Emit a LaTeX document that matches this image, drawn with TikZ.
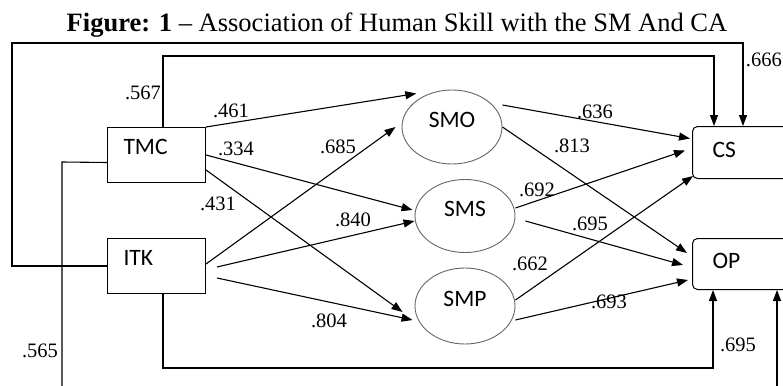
\documentclass[tikz,border=0pt]{standalone}
\usepackage{fontspec}
\setmainfont{Liberation Serif}
\newfontfamily\boxfont{Carlito}
\usepackage{tikz}
\usetikzlibrary{arrows.meta}
\usetikzlibrary{shapes.geometric}

\begin{document}
\begin{tikzpicture}[x=1pt,y=-1pt,
  varbox/.style={draw, line width=1pt, anchor=north west, inner xsep=16pt, inner ysep=13pt,
    text width=66pt, text height=14pt, text depth=15pt, font=\boxfont\fontsize{23.5}{28}\selectfont},
  outbox/.style={draw, line width=1pt, rounded corners=5pt, anchor=north west, inner xsep=20pt,
    inner ysep=13pt, text width=80pt, text depth=8pt, font=\boxfont\fontsize{23.5}{28}\selectfont},
  smnode/.style={ellipse, draw=black!60, line width=0.9pt, minimum width=100pt, inner sep=0pt,
    text height=14pt, text depth=14pt, font=\boxfont\fontsize{23.5}{28}\selectfont},
  coef/.style={inner sep=0pt, font=\fontsize{20.5}{24}\selectfont},
  link/.style={-{Triangle[length=11pt,width=8pt]}, line width=1.1pt}]
\useasboundingbox (0,0) rectangle (783,385);
\clip (0,0) rectangle (783,385);
\coordinate (lowL) at (62,392);
\coordinate (lowR) at (777,392);
% title
\node[anchor=base, inner sep=0pt, font=\fontsize{26.5}{30}\selectfont] (title) at (397,32)
  {\textbf{Figure: 1} – Association of Human Skill with the SM And CA};
% draws boxes
\node[varbox] (TMC) at (107,127) {TMC};
\node[varbox] (ITK) at (107,238) {ITK};
\node[outbox, text height=18pt] (CS) at (692,126) {CS};
\node[outbox, text height=17pt] (OP) at (692,238) {OP};
\node[smnode, minimum height=74pt] (SMO) at (452,127) {SMO};
\node[smnode, minimum height=73pt] (SMS) at (465,216) {SMS};
\node[smnode, minimum height=76pt] (SMP) at (465,306) {SMP};
% draws edges
\begin{scope}[link]
\draw (TMC.north east) -- ([yshift=7pt]SMO.north west);
\draw (TMC.east) -- ([xshift=-2pt,yshift=6pt]SMS.west);
\draw ([yshift=-15pt]TMC.east) -- ([xshift=-12pt,yshift=-6pt]SMP.west);
\draw ([yshift=2pt]ITK.east) -- ([xshift=-6pt]SMO.west);
\draw ([xshift=11pt,yshift=-1pt]ITK.east) -- ([yshift=-5pt]SMS.west);
\draw ([xshift=11pt,yshift=-12pt]ITK.east) -- ([xshift=-2pt,yshift=-14pt]SMP.west);
\draw ([yshift=22pt]SMO.east) -- ([xshift=-2pt,yshift=14pt]CS.west);
\draw (SMO.east) -- ([xshift=-5pt,yshift=11pt]OP.west);
\draw ([yshift=8pt]SMS.east) -- ([xshift=-7pt,yshift=2pt]CS.west);
\draw ([xshift=10pt,yshift=-5pt]SMS.east) -- ([xshift=-9pt,yshift=-1pt]OP.west);
\draw ([yshift=6pt]SMP.east) -- ([xshift=1pt,yshift=3pt]CS.south west);
\draw ([yshift=-14pt]SMP.east) -- ([xshift=-4pt,yshift=-16pt]OP.west);
% draws frame lines
\draw ([xshift=56pt]TMC.north west) -- (163,56) -| ([xshift=22pt]CS.north west);
\draw (ITK.west) -- (12,266) -- (12,43) -| ([xshift=51pt]CS.north west);
\draw ([xshift=56pt]ITK.south west) -- (163,368) -| ([xshift=21pt]OP.south west);
\draw (lowR) -- ([xshift=85pt]OP.south west);
\end{scope}
\draw[line width=1.1pt] ([yshift=-7.5pt]TMC.west) -- (62,162) -- (lowL);
% labels edges
\node[coef] (c567) at (143,93) {.567};
\node[coef] (c461) at (231,111) {.461};
\node[coef] (c334) at (236,149) {.334};
\node[coef] (c685) at (338,147) {.685};
\node[coef] (c431) at (218,204) {.431};
\node[coef] (c840) at (353,220) {.840};
\node[coef] (c804) at (329,321) {.804};
\node[coef] (c565) at (40,351) {.565};
\node[coef] (c636) at (595,112) {.636};
\node[coef] (c813) at (572,146) {.813};
\node[coef] (c692) at (537,190) {.692};
\node[coef] (c695a) at (590,224) {.695};
\node[coef] (c662) at (530,264) {.662};
\node[coef] (c693) at (609,302) {.693};
\node[coef] (c695b) at (738,345) {.695};
\node[coef, anchor=east] (c666) at (782,60) {.666};
\end{tikzpicture}
\end{document}
